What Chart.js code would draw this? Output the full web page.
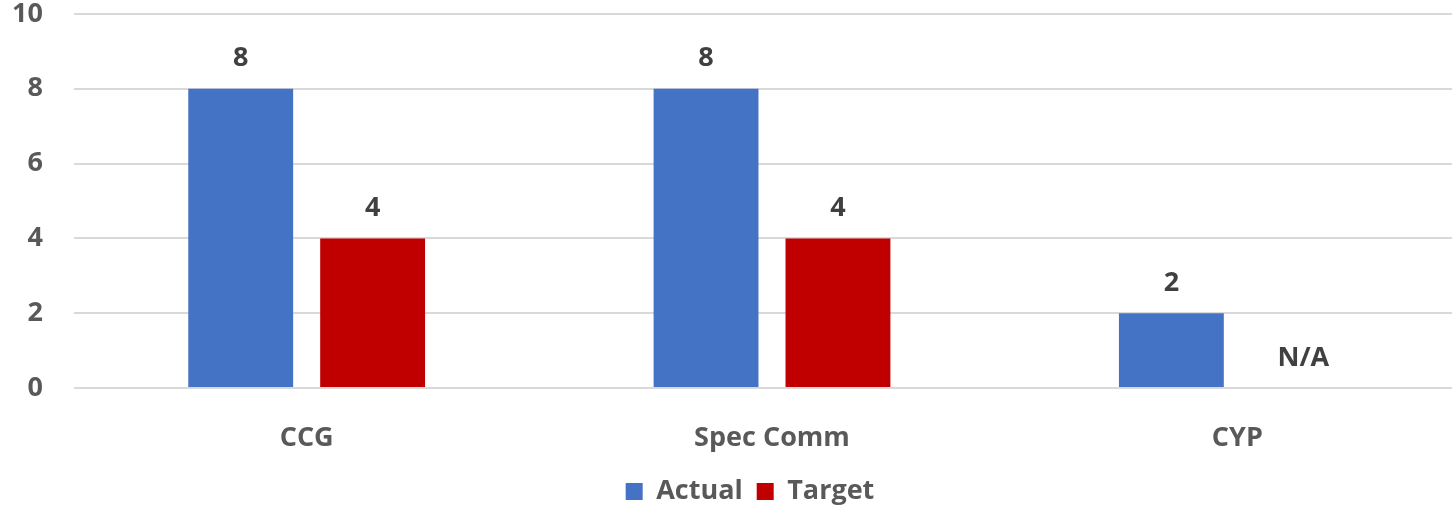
<!DOCTYPE html>
<html>
<head>
<meta charset="utf-8">
<script src="https://cdn.jsdelivr.net/npm/chart.js@4"></script>
<style>
  html, body { margin: 0; padding: 0; background: #fff; overflow: hidden; }
</style>
</head>
<body>
<canvas id="chart" width="1488" height="508"></canvas>
<script>
const categories = ['CCG', 'Spec Comm', 'CYP'];
const actual = [8, 8, 2];
const target = [4, 4, null];
const yTicks = [0, 2, 4, 6, 8, 10];

const FONT = '"Open Sans", "DejaVu Sans", sans-serif';

// value labels above bars, "N/A" where there is no value
const valueLabels = {
  id: 'valueLabels',
  afterDatasetsDraw(chart) {
    const ctx = chart.ctx;
    const y = chart.scales.y;
    ctx.save();
    ctx.font = 'bold 27px ' + FONT;
    ctx.fillStyle = '#404040';
    ctx.textAlign = 'center';
    ctx.textBaseline = 'middle';
    chart.data.datasets.forEach((ds, i) => {
      const meta = chart.getDatasetMeta(i);
      meta.data.forEach((bar, j) => {
        const v = ds.data[j];
        const top = v == null ? y.getPixelForValue(0) : bar.y;
        ctx.fillText(v == null ? 'N/A' : String(v), bar.x, top - 30);
      });
    });
    ctx.restore();
  }
};

const ctx = document.getElementById('chart').getContext('2d');
new Chart(ctx, {
  type: 'bar',
  data: {
    labels: categories,
    datasets: [
      { label: 'Actual', data: actual, backgroundColor: '#4472C4' },
      { label: 'Target', data: target, backgroundColor: '#C00000' }
    ]
  },
  options: {
    responsive: false,
    animation: false,
    categoryPercentage: 0.567,
    barPercentage: 0.795,
    layout: { padding: { left: 12, right: 0, top: 14, bottom: -7 } },
    plugins: {
      legend: {
        position: 'bottom',
        labels: {
          boxWidth: 17,
          boxHeight: 17,
          padding: 14,
          color: '#595959',
          font: { family: FONT, size: 27, weight: 'bold' }
        }
      },
      tooltip: { enabled: false }
    },
    scales: {
      x: {
        grid: { display: false, drawTicks: false },
        border: { display: false },
        ticks: {
          padding: 34,
          color: '#595959',
          font: { family: FONT, size: 27, weight: 'bold' }
        },
        afterFit(scale) { scale.height = 76; }
      },
      y: {
        min: 0,
        max: 10,
        afterBuildTicks(scale) { scale.ticks = yTicks.map(v => ({ value: v })); },
        grid: { color: '#D9D9D9', lineWidth: 2, drawTicks: true, tickLength: 31, tickColor: 'rgba(0,0,0,0)' },
        border: { display: false },
        ticks: {
          padding: 0,
          color: '#595959',
          font: { family: FONT, size: 27, weight: 'bold', lineHeight: 1 }
        },
        afterFit(scale) { scale.width = 62; }
      },
      // empty spacer on the right: the plot runs past the window edge
      yRight: {
        position: 'right',
        min: 0,
        max: 10,
        grid: { display: false, drawTicks: false },
        border: { display: false },
        ticks: { display: false },
        afterFit(scale) { scale.width = 18; }
      }
    }
  },
  plugins: [valueLabels]
});
</script>
</body>
</html>
